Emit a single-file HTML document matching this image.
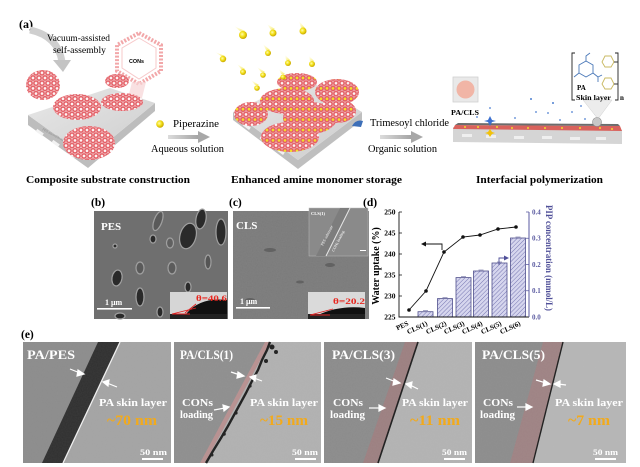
<!DOCTYPE html>
<html><head><meta charset="utf-8"><style>html,body{margin:0;padding:0;background:#fff}svg{display:block}</style></head><body>
<svg width="640" height="467" viewBox="0 0 640 467" xmlns="http://www.w3.org/2000/svg" font-family="'Liberation Serif', serif">
<defs>
<pattern id="hc" width="6" height="10.4" patternUnits="userSpaceOnUse">
<rect width="6" height="10.4" fill="#f4c9cb"/>
<g fill="#fdf3f3" stroke="#e35d64" stroke-width="1.5">
<circle cx="3" cy="5.2" r="2.1"/><circle cx="0" cy="0" r="2.1"/><circle cx="6" cy="0" r="2.1"/><circle cx="0" cy="10.4" r="2.1"/><circle cx="6" cy="10.4" r="2.1"/>
</g>
</pattern>
<pattern id="hcy" width="6" height="10.4" patternUnits="userSpaceOnUse">
<rect width="6" height="10.4" fill="#f0b8ba"/>
<g stroke="#e35d64" stroke-width="1.5">
<circle cx="3" cy="5.2" r="2.1" fill="#f3df2a"/><circle cx="0" cy="0" r="2.1" fill="#fdf3f3"/><circle cx="6" cy="0" r="2.1" fill="#fdf3f3"/><circle cx="0" cy="10.4" r="2.1" fill="#fdf3f3"/><circle cx="6" cy="10.4" r="2.1" fill="#fdf3f3"/>
</g>
</pattern>
<pattern id="hatch" width="3" height="3" patternUnits="userSpaceOnUse" patternTransform="rotate(45)">
<rect width="3" height="3" fill="#d6d6ee"/><line x1="0" y1="0" x2="0" y2="3" stroke="#6c6cab" stroke-width="0.9"/>
</pattern>
<linearGradient id="slab" x1="0" y1="0" x2="1" y2="1"><stop offset="0" stop-color="#e8e8e8"/><stop offset="1" stop-color="#cdcdcd"/></linearGradient>
<linearGradient id="garr" x1="0" x2="1"><stop offset="0" stop-color="#dcdcdc"/><stop offset="1" stop-color="#a5a5a5"/></linearGradient>
<filter id="noise" x="0" y="0" width="100%" height="100%">
<feTurbulence type="fractalNoise" baseFrequency="0.8" numOctaves="1" seed="3"/>
<feColorMatrix type="matrix" values="0 0 0 0 0.5  0 0 0 0 0.5  0 0 0 0 0.5  0 0 0 0.35 0"/>
</filter>
<radialGradient id="yb" cx="0.4" cy="0.4" r="0.6"><stop offset="0" stop-color="#fffbb0"/><stop offset="0.5" stop-color="#f4e21c"/><stop offset="1" stop-color="#c9a800"/></radialGradient>
<linearGradient id="ytrail" x1="0" y1="0" x2="1" y2="1"><stop offset="0" stop-color="#fff6a0" stop-opacity="0"/><stop offset="1" stop-color="#f6e84a" stop-opacity="0.9"/></linearGradient>
</defs>

<!-- ===== Panel (a) ===== -->
<text x="19" y="28" font-size="12" font-weight="bold">(a)</text>

<path d="M30,30 Q58,36 62,62" fill="none" stroke="#cfcfcf" stroke-width="7"/>
<polygon points="53,60 71,60 63,72" fill="#c4c4c4"/>
<text x="47" y="41" font-size="9.5" textLength="63" lengthAdjust="spacingAndGlyphs">Vacuum-assisted</text>
<text x="53" y="53" font-size="9.5" textLength="53" lengthAdjust="spacingAndGlyphs">self-assembly</text>

<polygon points="139,33 161,45 161,71 139,84 117,71 117,45" fill="none" stroke="#f2a7a9" stroke-width="4" stroke-dasharray="2 1.5"/>
<polygon points="139,38 156,48 156,68 139,79 122,68 122,48" fill="none" stroke="#f7c9ca" stroke-width="1"/>
<text x="129" y="63" font-family="'Liberation Sans', sans-serif" font-size="5.5" font-weight="bold" textLength="15" lengthAdjust="spacingAndGlyphs">CONs</text>
<polygon points="132,82 146,82 142,98 128,98" fill="#f6d4d6" opacity="0.7"/>

<polygon points="28,125 88,168 155,111 155,103 88,158 28,115" fill="#bdbdbd"/>
<polygon points="28,115 110,88 155,103 88,158" fill="url(#slab)"/>
<g fill="#f2f2f2"><rect x="36" y="131" width="8" height="3" transform="rotate(35 40 132)"/><rect x="52" y="142" width="8" height="3" transform="rotate(35 56 143)"/><rect x="68" y="153" width="8" height="3" transform="rotate(35 72 154)"/></g>
<text x="42" y="130" font-size="3.5" fill="#888" transform="rotate(28 42 130)">PES microfiltration membrane</text>
<ellipse cx="43" cy="85" rx="17" ry="15" fill="url(#hc)"/>
<ellipse cx="77" cy="107" rx="24" ry="13" fill="url(#hc)"/>
<ellipse cx="89" cy="143" rx="26" ry="17" fill="url(#hc)"/>
<ellipse cx="117" cy="81" rx="12" ry="7" fill="url(#hc)"/>
<ellipse cx="122" cy="102" rx="21" ry="9" fill="url(#hc)"/>

<circle cx="160" cy="124" r="3.8" fill="url(#yb)"/>
<text x="173" y="127" font-size="10" textLength="46" lengthAdjust="spacingAndGlyphs">Piperazine</text>
<rect x="168" y="135" width="30" height="4" fill="url(#garr)"/>
<polygon points="198,131 210,137 198,143" fill="#a8a8a8"/>
<text x="151" y="152" font-size="10" textLength="73" lengthAdjust="spacingAndGlyphs">Aqueous solution</text>

<polygon points="233,112 298,160 362,112 362,120 298,169 233,120" fill="#bfbfbf"/>
<polygon points="233,112 305,78 362,112 298,160" fill="url(#slab)"/>
<g fill="#f3f3f3"><rect x="243" y="125" width="8" height="3" transform="rotate(36 247 126)"/><rect x="260" y="138" width="8" height="3" transform="rotate(36 264 139)"/><rect x="277" y="150" width="8" height="3" transform="rotate(36 281 151)"/></g>
<ellipse cx="297" cy="82" rx="20" ry="9" fill="url(#hcy)"/>
<ellipse cx="337" cy="92" rx="22" ry="13" fill="url(#hcy)"/>
<ellipse cx="287" cy="101" rx="27" ry="13" fill="url(#hcy)"/>
<ellipse cx="251" cy="114" rx="17" ry="12" fill="url(#hcy)"/>
<ellipse cx="337" cy="111" rx="19" ry="12" fill="url(#hcy)"/>
<ellipse cx="310" cy="118" rx="27" ry="16" fill="url(#hcy)"/>
<ellipse cx="290" cy="137" rx="29" ry="15" fill="url(#hcy)"/>
<g>
<g transform="translate(243,35)"><path d="M-9,-9 L-2,-3 L2,-4 Z" fill="url(#ytrail)"/><circle r="4" fill="url(#yb)"/></g>
<g transform="translate(273,33)"><path d="M-6,-9 L-2,-3 L2,-4 Z" fill="url(#ytrail)"/><circle r="3.5" fill="url(#yb)"/></g>
<g transform="translate(303,31)"><path d="M-4,-10 L-2,-3 L2,-3 Z" fill="url(#ytrail)"/><circle r="3.5" fill="url(#yb)"/></g>
<g transform="translate(268,53)"><path d="M-5,-9 L-2,-3 L2,-3 Z" fill="url(#ytrail)"/><circle r="3" fill="url(#yb)"/></g>
<g transform="translate(288,63)"><path d="M-3,-8 L-2,-3 L2,-3 Z" fill="url(#ytrail)"/><circle r="3" fill="url(#yb)"/></g>
<g transform="translate(312,64)"><path d="M-3,-8 L-2,-3 L2,-3 Z" fill="url(#ytrail)"/><circle r="3" fill="url(#yb)"/></g>
<g transform="translate(223,59)"><path d="M-8,-7 L-2,-3 L2,-3 Z" fill="url(#ytrail)"/><circle r="3.2" fill="url(#yb)"/></g>
<g transform="translate(243,72)"><path d="M-6,-8 L-2,-3 L2,-3 Z" fill="url(#ytrail)"/><circle r="3" fill="url(#yb)"/></g>
<g transform="translate(263,75)"><path d="M-6,-8 L-2,-3 L2,-3 Z" fill="url(#ytrail)"/><circle r="2.8" fill="url(#yb)"/></g>
<g transform="translate(257,88)"><path d="M-6,-8 L-2,-3 L2,-3 Z" fill="url(#ytrail)"/><circle r="2.8" fill="url(#yb)"/></g>
<g transform="translate(283,77)"><path d="M-4,-8 L-2,-3 L2,-3 Z" fill="url(#ytrail)"/><circle r="2.6" fill="url(#yb)"/></g>
</g>

<path d="M352,126 Q356,119 363,121 L361,127 Z" fill="#3d6fb8"/>
<text x="370" y="126" font-size="10" textLength="79" lengthAdjust="spacingAndGlyphs">Trimesoyl chloride</text>
<rect x="380" y="135" width="31" height="4" fill="url(#garr)"/>
<polygon points="411,131 423,137 411,143" fill="#a8a8a8"/>
<text x="368" y="152" font-size="10" textLength="69" lengthAdjust="spacingAndGlyphs">Organic solution</text>

<rect x="453" y="77" width="25" height="25" fill="#e9e9e9" stroke="#d0d0d0" stroke-width="0.8"/>
<circle cx="465.5" cy="89.5" r="9" fill="#f1b5a6"/>
<text x="451" y="115" font-size="7.5" font-weight="bold" textLength="28" lengthAdjust="spacingAndGlyphs">PA/CLS</text>
<polygon points="453,127 622,130 622,144 453,142" fill="#d5d5d5"/>
<g fill="#efefef"><rect x="462" y="134" width="10" height="3"/><rect x="486" y="135" width="10" height="3"/><rect x="514" y="136" width="10" height="3"/><rect x="542" y="136" width="10" height="3"/><rect x="570" y="137" width="10" height="3"/><rect x="596" y="137" width="10" height="3"/></g>
<polygon points="455,125 620,126 622,131 453,129" fill="#d9625c"/>
<polygon points="458,123 618,124 620,126 455,125" fill="#6c6c6c"/>
<g fill="#f3dc2c"><circle cx="465" cy="127" r="1"/><circle cx="478" cy="127" r="1"/><circle cx="497" cy="127" r="1"/><circle cx="512" cy="128" r="1"/><circle cx="528" cy="128" r="1"/><circle cx="545" cy="128" r="1"/><circle cx="562" cy="128" r="1"/><circle cx="580" cy="128" r="1"/><circle cx="600" cy="128" r="1"/><circle cx="612" cy="129" r="1"/></g>
<g fill="#4d7fd0"><circle cx="531" cy="99" r="1"/><circle cx="553" cy="103" r="1"/><circle cx="536" cy="112" r="0.9"/><circle cx="548" cy="113" r="0.9"/><circle cx="572" cy="112" r="0.9"/><circle cx="581" cy="106" r="0.9"/><circle cx="490" cy="108" r="0.9"/><circle cx="515" cy="118" r="0.9"/><circle cx="560" cy="120" r="0.9"/><circle cx="585" cy="119" r="0.9"/><circle cx="595" cy="114" r="0.9"/><circle cx="477" cy="117" r="0.9"/></g>
<polygon points="490,116 492,120 496,121 492,122 490,126 488,122 484,121 488,120" fill="#3a6fd0"/>
<polygon points="490,129 492,132 495,133 492,134 490,137 488,134 485,133 488,132" fill="#f2c20a"/>
<polygon points="583,100 612,100 598,119" fill="#ececec" stroke="#cfcfcf" stroke-width="0.5"/>
<circle cx="597" cy="122" r="4.5" fill="#c7c7c7" stroke="#888" stroke-width="0.6"/>
<g fill="none" stroke-width="0.9">
<path d="M575,53 H572 V100 H575 M615,53 H618 V100 H615" stroke="#222"/>
<polygon points="586,61 593,65 593,73 586,77 579,73 579,65" stroke="#4a78b8"/>
<path d="M579,73 L574,77 M586,61 L586,56 L590,53 M593,73 L598,77 L598,82 M598,77 L602,75" stroke="#4a78b8"/>
<polygon points="605,56 611,56 614,62 611,67 605,67 602,62" stroke="#c8b860"/>
<polygon points="605,78 611,78 614,84 611,89 605,89 602,84" stroke="#c8b860"/>
<path d="M614,62 L618,62 M614,84 L618,84" stroke="#333"/>
</g>
<text x="577" y="90" font-size="7" font-weight="bold">PA</text>
<text x="576" y="100" font-size="7" font-weight="bold" textLength="35" lengthAdjust="spacingAndGlyphs">Skin layer</text>
<text x="620" y="100" font-size="7" font-weight="bold">n</text>

<text x="26" y="183" font-size="11" font-weight="bold" textLength="164" lengthAdjust="spacingAndGlyphs">Composite substrate construction</text>
<text x="231" y="183" font-size="11" font-weight="bold" textLength="171" lengthAdjust="spacingAndGlyphs">Enhanced amine monomer storage</text>
<text x="476" y="183" font-size="11" font-weight="bold" textLength="127" lengthAdjust="spacingAndGlyphs">Interfacial polymerization</text>

<!-- ===== Panel (b) SEM ===== -->
<text x="91" y="206" font-size="11.5" font-weight="bold">(b)</text>
<rect x="94" y="211" width="134" height="108" fill="#6f6f6f"/>
<g fill="#2a2a2a" stroke="#a0a0a0" stroke-width="1.2">
<ellipse cx="158" cy="221" rx="4" ry="10" transform="rotate(20 158 221)" fill="#5a5a5a"/>
<ellipse cx="153" cy="239" rx="3" ry="4"/>
<ellipse cx="170" cy="243" rx="3.5" ry="5" fill="#606060"/>
<ellipse cx="188" cy="236" rx="8" ry="13" transform="rotate(15 188 236)"/>
<ellipse cx="201" cy="219" rx="5" ry="10" transform="rotate(10 201 219)"/>
<ellipse cx="221" cy="232" rx="5" ry="13"/>
<ellipse cx="117" cy="278" rx="5" ry="8" transform="rotate(10 117 278)"/>
<ellipse cx="140" cy="268" rx="4" ry="6" fill="#5a5a5a"/>
<ellipse cx="140" cy="297" rx="4" ry="9"/>
<ellipse cx="172" cy="268" rx="4" ry="6" fill="#5c5c5c"/>
<ellipse cx="188" cy="287" rx="3" ry="5"/>
<ellipse cx="115" cy="246" rx="2" ry="2"/>
<ellipse cx="208" cy="262" rx="3" ry="7" fill="#555"/>
<ellipse cx="160" cy="312" rx="3" ry="5"/>
<ellipse cx="120" cy="316" rx="5" ry="3"/>
</g>
<text x="101" y="230" font-size="11" font-weight="bold" fill="#fff">PES</text>
<text x="105" y="305" font-size="8" font-weight="bold" fill="#fff">1 μm</text>
<rect x="97" y="308" width="35" height="1.6" fill="#fff"/>
<rect x="170" y="292" width="57" height="27" fill="#d6d6d6"/>
<path d="M186,319 L186,314 Q200,297 227,300 L227,319 Z" fill="#111"/>
<rect x="170" y="314" width="57" height="5" fill="#222"/>
<path d="M172,314 L196,308 M172,314 L190,314 M185,313 L196,304" stroke="#e02020" stroke-width="0.9" fill="none"/>
<text x="196" y="301" font-size="8.5" font-weight="bold" fill="#e8261e" textLength="31" lengthAdjust="spacingAndGlyphs">θ=40.6</text>

<!-- ===== Panel (c) SEM ===== -->
<text x="229" y="206" font-size="11.5" font-weight="bold">(c)</text>
<rect x="233" y="211" width="136" height="108" fill="#7a7a7a"/>
<rect x="233" y="211" width="136" height="108" filter="url(#noise)" opacity="0.35"/>
<g fill="#626262"><ellipse cx="270" cy="250" rx="6" ry="2"/><ellipse cx="300" cy="282" rx="4" ry="1.5"/><ellipse cx="250" cy="300" rx="5" ry="2"/><ellipse cx="330" cy="265" rx="5" ry="2"/></g>
<text x="236" y="229" font-size="11" font-weight="bold" fill="#fff">CLS</text>
<rect x="309" y="208" width="59" height="48" fill="#8a8a8a" stroke="#bbb" stroke-width="0.5"/>
<polygon points="340,208 350,208 326,256 316,256" fill="#7d7d7d"/>
<line x1="350" y1="208" x2="326" y2="256" stroke="#e8e8e8" stroke-width="1"/>
<text x="311" y="215" font-size="4.5" font-weight="bold" fill="#fff">CLS(1)</text>
<text x="323" y="246" font-size="4" fill="#fff" transform="rotate(-63 323 246)">PES substrate</text>
<text x="334" y="252" font-size="4" fill="#fff" transform="rotate(-63 334 252)">CONs loading</text>
<rect x="360" y="250" width="6" height="1" fill="#fff"/>
<text x="240" y="304" font-size="8" font-weight="bold" fill="#fff">1 μm</text>
<rect x="236" y="307" width="34" height="1.6" fill="#fff"/>
<rect x="308" y="292" width="57" height="27" fill="#dadada"/>
<path d="M318,319 L318,315 Q340,305 365,308 L365,319 Z" fill="#111"/>
<rect x="308" y="314" width="57" height="5" fill="#222"/>
<path d="M310,315 L333,309 M310,315 L330,315" stroke="#e02020" stroke-width="0.9" fill="none"/>
<text x="333" y="304" font-size="8.5" font-weight="bold" fill="#e8261e" textLength="32" lengthAdjust="spacingAndGlyphs">θ=20.2</text>

<!-- ===== Panel (d) chart ===== -->
<text x="363" y="206" font-size="11.5" font-weight="bold">(d)</text>
<g fill="url(#hatch)" stroke="#4f4f8c" stroke-width="0.8">
<rect x="418" y="311.7" width="15" height="5.3"/>
<rect x="437.5" y="298.6" width="15" height="18.4"/>
<rect x="456" y="277.6" width="15" height="39.4"/>
<rect x="473.5" y="271" width="15" height="46"/>
<rect x="492" y="263" width="15" height="54"/>
<rect x="510.5" y="238" width="15" height="79"/>
</g>
<g stroke="#4f4f8c" stroke-width="0.6"><path d="M423,310.5 H428 M442.5,297.5 H447.5 M461,276.5 H466 M478.5,270 H483.5 M497,262 H502 M515.5,237 H520.5"/></g>
<path d="M399,212 V317 H529" fill="none" stroke="#111" stroke-width="0.9"/>
<line x1="529" y1="212" x2="529" y2="317" stroke="#5a5aa0" stroke-width="1"/>
<g stroke="#111" stroke-width="0.8"><path d="M399,212 h3 M399,233 h3 M399,254 h3 M399,275 h3 M399,296 h3"/></g>
<g stroke="#5a5aa0" stroke-width="0.8"><path d="M529,212 h-3 M529,238.25 h-3 M529,264.5 h-3 M529,290.75 h-3"/></g>
<g font-size="7.5" font-weight="bold" text-anchor="end">
<text x="395.5" y="214.5">250</text><text x="395.5" y="235.5">245</text><text x="395.5" y="256.5">240</text><text x="395.5" y="277.5">235</text><text x="395.5" y="298.5">230</text><text x="395.5" y="319.5">225</text>
</g>
<g font-size="7" font-weight="bold" fill="#5a5aa0">
<text x="532" y="214.5">0.4</text><text x="532" y="240.7">0.3</text><text x="532" y="267">0.2</text><text x="532" y="293.2">0.1</text><text x="532" y="319.5">0.0</text>
</g>
<text x="0" y="0" font-size="10" font-weight="bold" text-anchor="middle" transform="translate(379,266) rotate(-90)">Water uptake (%)</text>
<text x="0" y="0" font-size="9" font-weight="bold" fill="#4f4f98" text-anchor="middle" transform="translate(546,258) rotate(90)" textLength="106" lengthAdjust="spacingAndGlyphs">PIP concentration (mmol/L)</text>
<polyline points="409,310 426,291 444,252 463,237 480,235 498,229 516,227" fill="none" stroke="#111" stroke-width="0.9"/>
<g fill="#111"><circle cx="409" cy="310" r="1.8"/><circle cx="426" cy="291" r="1.8"/><circle cx="444" cy="252" r="1.8"/><circle cx="463" cy="237" r="1.8"/><circle cx="480" cy="235" r="1.8"/><circle cx="498" cy="229" r="1.8"/><circle cx="516" cy="227" r="1.8"/></g>
<path d="M442,250 V244 H425" fill="none" stroke="#111" stroke-width="0.9"/>
<polygon points="421,244 426,241.5 426,246.5" fill="#111"/>
<path d="M499,265 V258 H505" fill="none" stroke="#4f4f98" stroke-width="0.9"/>
<polygon points="509,258 504,255.5 504,260.5" fill="#4f4f98"/>
<g font-size="7" font-weight="bold" text-anchor="end">
<text transform="translate(409,325) rotate(-25)">PES</text>
<text transform="translate(428,325) rotate(-25)">CLS(1)</text>
<text transform="translate(447,325) rotate(-25)">CLS(2)</text>
<text transform="translate(465,325) rotate(-25)">CLS(3)</text>
<text transform="translate(483,325) rotate(-25)">CLS(4)</text>
<text transform="translate(502,325) rotate(-25)">CLS(5)</text>
<text transform="translate(521,325) rotate(-25)">CLS(6)</text>
</g>

<!-- ===== Panel (e) TEM ===== -->
<text x="21" y="338" font-size="11.5" font-weight="bold">(e)</text>
<rect x="23" y="342" width="148" height="121" fill="#8c8c8c"/>
<polygon points="120,342 171,342 171,463 63,463" fill="#a4a4a4"/>
<polygon points="98,342 120,342 63,463 42,463" fill="#2f2f2f"/>
<line x1="120" y1="342" x2="63" y2="463" stroke="#f2f2f2" stroke-width="1.3"/>
<rect x="23" y="342" width="148" height="121" filter="url(#noise)" opacity="0.25"/>

<rect x="174" y="342" width="147" height="121" fill="#8e8e8e"/>
<polygon points="270,342 321,342 321,463 205,463" fill="#b1b1b1"/>
<polygon points="265,342 270,342 205,463 200,463" fill="#b89090"/>
<polyline points="270,342 267,350 262,360 258,370 252,381 246,393 240,404 234,415 228,426 221,438 213,451 206,463" fill="none" stroke="#1c1c1c" stroke-width="2.4"/>
<g fill="#1c1c1c"><circle cx="272" cy="347" r="2.5"/><circle cx="276" cy="352" r="2"/><circle cx="266" cy="361" r="2"/><circle cx="250" cy="386" r="1.6"/><circle cx="236" cy="413" r="1.6"/><circle cx="224" cy="434" r="1.8"/><circle cx="212" cy="455" r="1.5"/></g>
<rect x="174" y="342" width="147" height="121" filter="url(#noise)" opacity="0.3"/>

<rect x="324" y="342" width="148" height="121" fill="#8b8b8b"/>
<polygon points="418,342 472,342 472,463 378,463" fill="#b3b3b3"/>
<polygon points="405,342 418,342 378,463 363,463" fill="#9c7f80"/>
<path d="M418,342 L378,463" stroke="#1a1a1a" stroke-width="1.6"/>
<rect x="324" y="342" width="148" height="121" filter="url(#noise)" opacity="0.3"/>

<rect x="475" y="342" width="151" height="121" fill="#8c8c8c"/>
<polygon points="563,342 626,342 626,463 533,463" fill="#b6b6b6"/>
<polygon points="543,342 563,342 533,463 510,463" fill="#9e8283"/>
<path d="M563,342 L533,463" stroke="#1a1a1a" stroke-width="1.4"/>
<rect x="475" y="342" width="151" height="121" filter="url(#noise)" opacity="0.3"/>

<g font-weight="bold" fill="#fff">
<text x="27" y="359" font-size="13" textLength="48" lengthAdjust="spacingAndGlyphs">PA/PES</text>
<text x="180" y="359" font-size="13" textLength="53" lengthAdjust="spacingAndGlyphs">PA/CLS(1)</text>
<text x="332" y="359" font-size="13" textLength="63" lengthAdjust="spacingAndGlyphs">PA/CLS(3)</text>
<text x="482" y="359" font-size="13" textLength="63" lengthAdjust="spacingAndGlyphs">PA/CLS(5)</text>
<text x="99" y="406" font-size="11" textLength="68" lengthAdjust="spacingAndGlyphs">PA skin  layer</text>
<text x="250" y="406" font-size="11" textLength="68" lengthAdjust="spacingAndGlyphs">PA skin  layer</text>
<text x="402" y="406" font-size="11" textLength="66" lengthAdjust="spacingAndGlyphs">PA skin layer</text>
<text x="555" y="406" font-size="11" textLength="68" lengthAdjust="spacingAndGlyphs">PA skin layer</text>
<text x="182" y="406" font-size="10" textLength="31" lengthAdjust="spacingAndGlyphs">CONs</text>
<text x="180" y="418" font-size="10" textLength="33" lengthAdjust="spacingAndGlyphs">loading</text>
<text x="333" y="406" font-size="10" textLength="30" lengthAdjust="spacingAndGlyphs">CONs</text>
<text x="330" y="418" font-size="10" textLength="35" lengthAdjust="spacingAndGlyphs">loading</text>
<text x="483" y="406" font-size="10" textLength="30" lengthAdjust="spacingAndGlyphs">CONs</text>
<text x="480" y="418" font-size="10" textLength="35" lengthAdjust="spacingAndGlyphs">loading</text>
<text x="140" y="455" font-size="8.5" textLength="27" lengthAdjust="spacingAndGlyphs">50 nm</text>
<text x="292" y="455" font-size="8.5" textLength="26" lengthAdjust="spacingAndGlyphs">50 nm</text>
<text x="442" y="455" font-size="8.5" textLength="25" lengthAdjust="spacingAndGlyphs">50 nm</text>
<text x="593" y="455" font-size="8.5" textLength="25" lengthAdjust="spacingAndGlyphs">50 nm</text>
</g>
<g fill="#fff"><rect x="142" y="458" width="21" height="2"/><rect x="295" y="458" width="21" height="2"/><rect x="444" y="458" width="21" height="2"/><rect x="595" y="458" width="21" height="2"/></g>
<g font-weight="bold" fill="#f2aa1c" font-size="15">
<text x="107" y="425" textLength="50" lengthAdjust="spacingAndGlyphs">~70 nm</text>
<text x="260" y="425" textLength="48" lengthAdjust="spacingAndGlyphs">~15 nm</text>
<text x="410" y="425" textLength="50" lengthAdjust="spacingAndGlyphs">~11 nm</text>
<text x="568" y="425" textLength="42" lengthAdjust="spacingAndGlyphs">~7 nm</text>
</g>
<g stroke="#fff" stroke-width="1.2" fill="#fff">
<line x1="70" y1="369" x2="80" y2="373"/><polygon points="84,374 78,370 77,376"/>
<line x1="117" y1="387" x2="107" y2="383"/><polygon points="103,382 109,380 108,386"/>
<line x1="231" y1="372" x2="240" y2="375"/><polygon points="244,376 238,372 237,378"/>
<line x1="262" y1="381" x2="254" y2="378"/><polygon points="250,377 256,375 255,381"/>
<line x1="214" y1="410" x2="225" y2="408"/><polygon points="229,407 223,405 224,411"/>
<line x1="386" y1="378" x2="396" y2="382"/><polygon points="400,383 394,379 393,385"/>
<line x1="418" y1="389" x2="410" y2="385"/><polygon points="406,384 412,382 411,388"/>
<line x1="369" y1="408" x2="381" y2="408"/><polygon points="385,408 379,405 379,411"/>
<line x1="536" y1="380" x2="546" y2="383"/><polygon points="550,384 544,380 543,386"/>
<line x1="566" y1="385" x2="558" y2="384"/><polygon points="554,384 560,381 560,387"/>
<line x1="517" y1="407" x2="528" y2="407"/><polygon points="532,407 526,404 526,410"/>
</g>
</svg>
</body></html>
